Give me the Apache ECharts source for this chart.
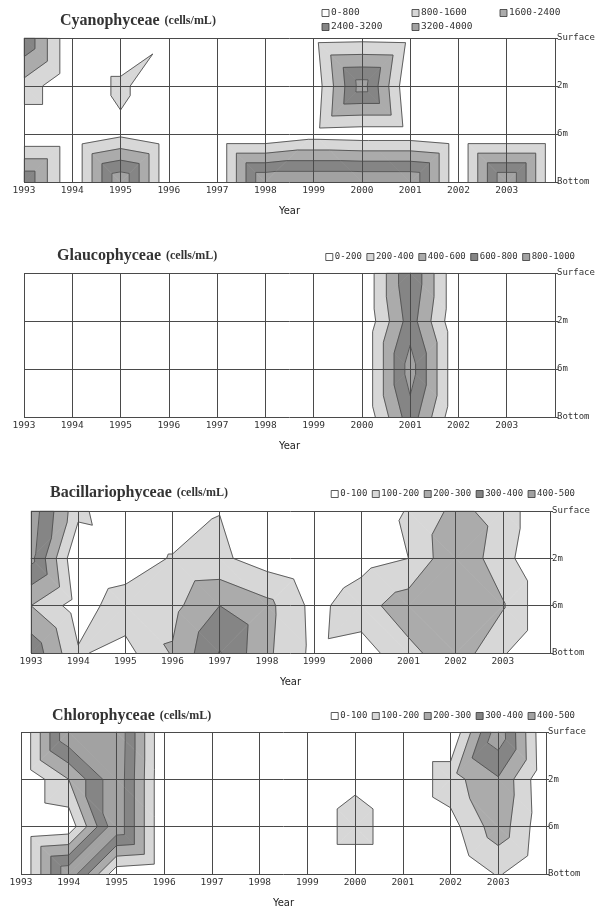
<!DOCTYPE html>
<html>
<head>
<meta charset="utf-8">
<script src="https://cdn.jsdelivr.net/npm/echarts@6/dist/echarts.min.js"></script>
<style>
html,body{margin:0;padding:0;background:#ffffff;}
#chart{width:602px;height:909px;}
</style>
</head>
<body>
<div id="chart"></div>
<script>
// ---------- axes / categories ----------
const years = [1993, 1994, 1995, 1996, 1997, 1998, 1999, 2000, 2001, 2002, 2003, 2004];
const yearLabels = ['1993', '1994', '1995', '1996', '1997', '1998', '1999', '2000', '2001', '2002', '2003'];
const depthLabels = ['Surface', '2m', '6m', 'Bottom'];

// ---------- Cyanophyceae (cells/mL), one value per year at each depth ----------
const cyanoSurface = [3100, 0, 0, 700, 0, 0, 500, 560, 500, 0, 0, 0];
const cyano2m      = [1300, 0, 1000, 0, 0, 0, 200, 3600, 0, 0, 0, 0];
const cyano6m      = [0, 0, 600, 0, 0, 0, 400, 300, 300, 0, 0, 0];
const cyanoBottom  = [3100, 0, 3900, 0, 0, 4000, 4000, 4000, 4000, 0, 4000, 0];
const cyanoLevels  = [0, 800, 1600, 2400, 3200, 4000];
const cyanoLegend  = ['0-800', '800-1600', '1600-2400', '2400-3200', '3200-4000'];

// ---------- Glaucophyceae ----------
const glaucoSurface = [0, 0, 0, 0, 0, 0, 0, 0, 790, 0, 0, 0];
const glauco2m      = [0, 0, 0, 0, 0, 0, 0, 0, 700, 0, 0, 0];
const glauco6m      = [0, 0, 0, 0, 0, 0, 0, 0, 900, 0, 0, 0];
const glaucoBottom  = [0, 0, 0, 0, 0, 0, 0, 0, 720, 0, 0, 0];
const glaucoLevels  = [0, 200, 400, 600, 800, 1000];
const glaucoLegend  = ['0-200', '200-400', '400-600', '600-800', '800-1000'];

// ---------- Bacillariophyceae ----------
const bacilSurface = [460, 130, 0, 0, 98, 0, 0, 0, 110, 228, 158, 0];
const bacil2m      = [430, 0, 30, 110, 120, 50, 0, 60, 100, 290, 134, 0];
const bacil6m      = [200, 50, 157, 170, 300, 230, 68, 160, 255, 290, 210, 0];
const bacilBottom  = [370, 110, 67, 210, 405, 220, 74, 51, 173, 263, 110, 0];
const bacilLevels  = [0, 100, 200, 300, 400, 500];
const bacilLegend  = ['0-100', '100-200', '200-300', '300-400', '400-500'];

// ---------- Chlorophyceae ----------
const chloroSurface = [0, 495, 490, 0, 0, 0, 0, 0, 0, 0, 470, 0];
const chloro2m      = [0, 200, 480, 0, 0, 0, 0, 70, 0, 160, 290, 10];
const chloro6m      = [0, 30, 480, 0, 0, 0, 0, 160, 0, 60, 260, 20];
const chloroBottom  = [0, 480, 30, 0, 0, 0, 0, 0, 0, 0, 110, 0];
const chloroLevels  = [0, 100, 200, 300, 400, 500];
const chloroLegend  = ['0-100', '100-200', '200-300', '300-400', '400-500'];

const bandColors = ['#ffffff', '#d7d7d7', '#ababab', '#858585', '#a2a2a2'];

const panels = [
  { title: 'Cyanophyceae', rows: [cyanoSurface, cyano2m, cyano6m, cyanoBottom], levels: cyanoLevels, legend: cyanoLegend,
    grid: { left: 24, top: 38, width: 531, height: 144 }, titlePos: [60, 12],
    legendPos: [[322, 13], [412, 13], [500, 13], [322, 27], [412, 27]], legendFont: 9.5 },
  { title: 'Glaucophyceae', rows: [glaucoSurface, glauco2m, glauco6m, glaucoBottom], levels: glaucoLevels, legend: glaucoLegend,
    grid: { left: 24, top: 273, width: 531, height: 144 }, titlePos: [57, 247],
    legendRight: 575, legendY: 257, legendFont: 9 },
  { title: 'Bacillariophyceae', rows: [bacilSurface, bacil2m, bacil6m, bacilBottom], levels: bacilLevels, legend: bacilLegend,
    grid: { left: 31, top: 511, width: 519, height: 142 }, titlePos: [50, 484],
    legendRight: 575, legendY: 494, legendFont: 9 },
  { title: 'Chlorophyceae', rows: [chloroSurface, chloro2m, chloro6m, chloroBottom], levels: chloroLevels, legend: chloroLegend,
    grid: { left: 21, top: 732, width: 525, height: 143 }, titlePos: [52, 707],
    legendRight: 575, legendY: 716, legendFont: 9 }
];

// cells: one per (year interval, depth interval)
const cells = [];
for (let i = 0; i < years.length - 1; i++) {
  for (let j = 0; j < depthLabels.length - 1; j++) cells.push([years[i], j]);
}

function clipPoly(poly, f) {
  const out = [];
  const n = poly.length;
  for (let k = 0; k < n; k++) {
    const a = poly[k], b = poly[(k + 1) % n];
    const fa = f(a.v), fb = f(b.v);
    if (fa >= 0) out.push(a);
    if ((fa >= 0) !== (fb >= 0)) {
      const t = fa / (fa - fb);
      out.push({ x: a.x + (b.x - a.x) * t, y: a.y + (b.y - a.y) * t, v: a.v + (b.v - a.v) * t });
    }
  }
  return out;
}

function cellTriangles(api, rows, year, j) {
  const i = years.indexOf(year);
  const corner = (ii, jj) => {
    const p = api.coord([years[ii], jj]);
    return { x: p[0], y: p[1], v: rows[jj][ii] };
  };
  const TL = corner(i, j), TR = corner(i + 1, j), BL = corner(i, j + 1), BR = corner(i + 1, j + 1);
  if (TL.v + BR.v >= TR.v + BL.v) return [[TL, TR, BR], [TL, BR, BL]];
  return [[TL, TR, BL], [TR, BR, BL]];
}

function fillRenderer(panel) {
  return function (params, api) {
    const tris = cellTriangles(api, panel.rows, api.value(0), api.value(1));
    const children = [];
    const lv = panel.levels;
    tris.forEach(tri => {
      for (let k = 1; k < bandColors.length; k++) {
        const lo = lv[k];
        const hi = k < bandColors.length - 1 ? lv[k + 1] : Infinity;
        let poly = clipPoly(tri, v => v - lo);
        if (poly.length >= 3 && hi !== Infinity) poly = clipPoly(poly, v => hi - v);
        if (poly.length >= 3) {
          children.push({
            type: 'polygon',
            shape: { points: poly.map(p => [p.x, p.y]) },
            style: { fill: bandColors[k], stroke: bandColors[k], lineWidth: 0.7 }
          });
        }
      }
    });
    return { type: 'group', children: children };
  };
}

function lineRenderer(panel) {
  return function (params, api) {
    const tris = cellTriangles(api, panel.rows, api.value(0), api.value(1));
    const children = [];
    const lv = panel.levels.slice(1, -1);
    tris.forEach(tri => {
      lv.forEach(L => {
        const pts = [];
        for (let e = 0; e < 3; e++) {
          const a = tri[e], b = tri[(e + 1) % 3];
          const fa = a.v - L, fb = b.v - L;
          if ((fa >= 0) !== (fb >= 0)) {
            const t = fa / (fa - fb);
            pts.push([a.x + (b.x - a.x) * t, a.y + (b.y - a.y) * t]);
          }
        }
        if (pts.length === 2) {
          children.push({
            type: 'polyline',
            shape: { points: pts },
            style: { stroke: '#505050', lineWidth: 0.9, fill: null }
          });
        }
      });
    });
    return { type: 'group', children: children };
  };
}

const option = {
  animation: false,
  backgroundColor: '#ffffff',
  grid: [], xAxis: [], yAxis: [], series: [], title: [], graphic: []
};

const gridLine = { show: true, lineStyle: { color: '#4a4a4a', width: 1 } };

function legendItem(x, y, color, label, fs) {
  option.graphic.push({
    type: 'rect', x: x, y: y - 3.5, shape: { x: 0, y: 0, width: 7, height: 7 },
    style: { fill: color, stroke: '#333', lineWidth: 0.8 }, silent: true
  });
  option.graphic.push({
    type: 'text', x: x + 9, y: y,
    style: { text: label, fill: '#333', font: fs + 'px "DejaVu Sans Mono"', verticalAlign: 'middle', align: 'left' },
    silent: true
  });
}

panels.forEach((p, k) => {
  option.grid.push(Object.assign({ show: false }, p.grid));
  option.xAxis.push({
    type: 'value', gridIndex: k, min: 1993, max: 2004, interval: 1, z: 10,
    axisLine: { show: false }, axisTick: { show: false }, splitLine: gridLine,
    axisLabel: { margin: 4, fontSize: 9.5, fontFamily: 'DejaVu Sans Mono', color: '#333',
      formatter: v => yearLabels[years.indexOf(v)] || '' },
    name: 'Year', nameLocation: 'middle', nameGap: 24,
    nameTextStyle: { fontSize: 10, fontFamily: 'DejaVu Sans', color: '#222' }
  });
  option.yAxis.push({
    type: 'value', gridIndex: k, min: 0, max: 3, interval: 1, inverse: true, position: 'right', z: 10,
    axisLine: { show: false },
    axisTick: { show: true, length: 3, lineStyle: { color: '#4a4a4a' } },
    splitLine: gridLine,
    axisLabel: { margin: 2, fontSize: 9, fontFamily: 'DejaVu Sans Mono', color: '#333',
      formatter: v => depthLabels[v] }
  });
  option.series.push({
    type: 'custom', xAxisIndex: k, yAxisIndex: k, data: cells, silent: true, z: 2,
    renderItem: fillRenderer(p)
  });
  option.series.push({
    type: 'custom', xAxisIndex: k, yAxisIndex: k, data: cells, silent: true, z: 3,
    renderItem: lineRenderer(p)
  });
  option.title.push({
    text: '{a|' + p.title + '} {b|(cells/mL)}',
    left: p.titlePos[0], top: p.titlePos[1], padding: 0,
    textStyle: { rich: {
      a: { fontSize: 16, fontFamily: 'Liberation Serif', color: '#333' },
      b: { fontSize: 12, fontFamily: 'Liberation Serif', color: '#333' }
    } }
  });
  const fs = p.legendFont;
  if (p.legendPos) {
    p.legend.forEach((lab, n) => legendItem(p.legendPos[n][0], p.legendPos[n][1], bandColors[n], lab, fs));
  } else {
    const gap = 5;
    const widths = p.legend.map(lab => 9 + lab.length * fs * 0.602);
    let x = p.legendRight - widths.reduce((a, b) => a + b, 0) - gap * (widths.length - 1);
    p.legend.forEach((lab, n) => {
      legendItem(x, p.legendY, bandColors[n], lab, fs);
      x += widths[n] + gap;
    });
  }
});

const chart = echarts.init(document.getElementById('chart'));
chart.setOption(option);
</script>
</body>
</html>
